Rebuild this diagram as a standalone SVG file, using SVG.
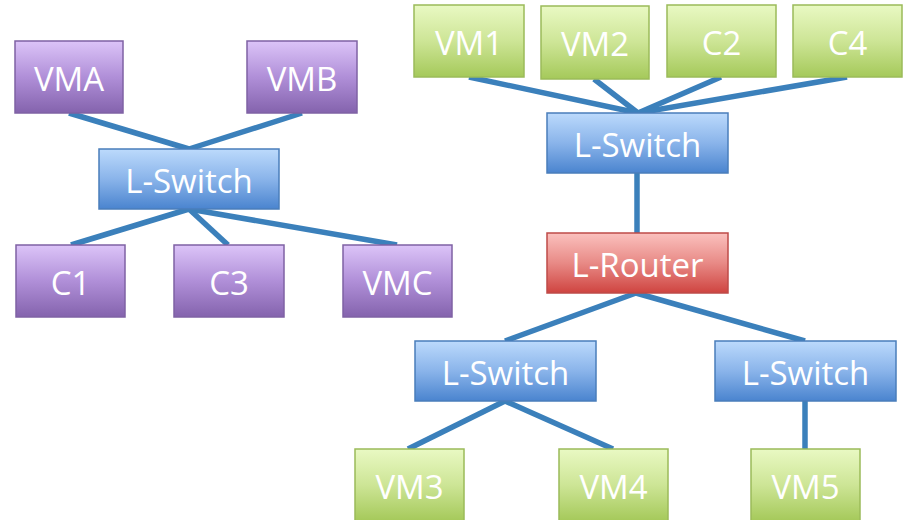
<svg xmlns="http://www.w3.org/2000/svg" width="903" height="520" viewBox="0 0 903 520">
<defs>
<linearGradient id="gP" x1="0" y1="0" x2="0" y2="1"><stop offset="0" stop-color="#dcc4f8"/><stop offset="0.5" stop-color="#b08fd8"/><stop offset="1" stop-color="#8463ad"/></linearGradient>
<linearGradient id="gB" x1="0" y1="0" x2="0" y2="1"><stop offset="0" stop-color="#bcdafc"/><stop offset="0.5" stop-color="#8ab4ea"/><stop offset="1" stop-color="#4a84cf"/></linearGradient>
<linearGradient id="gG" x1="0" y1="0" x2="0" y2="1"><stop offset="0" stop-color="#e9f9c3"/><stop offset="0.5" stop-color="#cde596"/><stop offset="1" stop-color="#a5c95a"/></linearGradient>
<linearGradient id="gR" x1="0" y1="0" x2="0" y2="1"><stop offset="0" stop-color="#fbc1be"/><stop offset="0.5" stop-color="#e88a86"/><stop offset="1" stop-color="#cf4440"/></linearGradient>
<style>
.p{fill:url(#gP);stroke:#7f62a4;stroke-width:1.5}
.b{fill:url(#gB);stroke:#4a7ebb;stroke-width:1.5}
.g{fill:url(#gG);stroke:#9bbb59;stroke-width:1.5}
.r{fill:url(#gR);stroke:#be4b48;stroke-width:1.5}
text{font-family:"Open Sans","Noto Sans",sans-serif;font-size:33px;fill:#ffffff;text-anchor:middle}
#connectors line{stroke:#3b80bb;stroke-width:5.5;stroke-linecap:butt}
</style>
</defs>
<rect width="903" height="520" fill="#ffffff"/>
<g id="connectors">
<line x1="69" y1="113" x2="189" y2="149"/>
<line x1="302" y1="113" x2="189" y2="149"/>
<line x1="189" y1="209" x2="71" y2="245"/>
<line x1="189" y1="209" x2="228" y2="245"/>
<line x1="189" y1="209" x2="397" y2="245"/>
<line x1="469" y1="77" x2="638" y2="113"/>
<line x1="594" y1="79" x2="638" y2="113"/>
<line x1="721" y1="77" x2="638" y2="113"/>
<line x1="847" y1="77" x2="638" y2="113"/>
<line x1="637" y1="173" x2="637" y2="233"/>
<line x1="636" y1="293" x2="505" y2="341"/>
<line x1="636" y1="293" x2="805" y2="341"/>
<line x1="505" y1="401" x2="408" y2="449"/>
<line x1="505" y1="401" x2="613" y2="449"/>
<line x1="805" y1="401" x2="805" y2="449"/>
</g>
<g id="VMA"><rect class="p" x="15" y="41" width="108" height="72"/><text x="69" y="91">VMA</text></g>
<g id="VMB"><rect class="p" x="247" y="41" width="110" height="72"/><text x="302" y="91">VMB</text></g>
<g id="LSwitch1"><rect class="b" x="99" y="149" width="180" height="60"/><text x="189" y="193">L-Switch</text></g>
<g id="C1"><rect class="p" x="16" y="245" width="109" height="72"/><text x="70.5" y="295">C1</text></g>
<g id="C3"><rect class="p" x="174" y="245" width="110" height="72"/><text x="229" y="295">C3</text></g>
<g id="VMC"><rect class="p" x="343" y="245" width="109" height="72"/><text x="397.5" y="295">VMC</text></g>
<g id="VM1"><rect class="g" x="414" y="5" width="110" height="72"/><text x="469" y="55">VM1</text></g>
<g id="VM2"><rect class="g" x="541" y="6" width="108" height="73"/><text x="595" y="56">VM2</text></g>
<g id="C2"><rect class="g" x="667" y="5" width="109" height="72"/><text x="721.5" y="55">C2</text></g>
<g id="C4"><rect class="g" x="793" y="5" width="109" height="72"/><text x="847.5" y="55">C4</text></g>
<g id="LSwitch2"><rect class="b" x="547" y="113" width="181" height="60"/><text x="637.5" y="157">L-Switch</text></g>
<g id="LRouter"><rect class="r" x="547" y="233" width="181" height="60"/><text x="637.5" y="277">L-Router</text></g>
<g id="LSwitch3"><rect class="b" x="415" y="341" width="181" height="60"/><text x="505.5" y="385">L-Switch</text></g>
<g id="LSwitch4"><rect class="b" x="715" y="341" width="181" height="60"/><text x="805.5" y="385">L-Switch</text></g>
<g id="VM3"><rect class="g" x="355" y="449" width="109" height="72"/><text x="409.5" y="499">VM3</text></g>
<g id="VM4"><rect class="g" x="559" y="449" width="109" height="72"/><text x="613.5" y="499">VM4</text></g>
<g id="VM5"><rect class="g" x="751" y="449" width="109" height="72"/><text x="805.5" y="499">VM5</text></g>
</svg>
